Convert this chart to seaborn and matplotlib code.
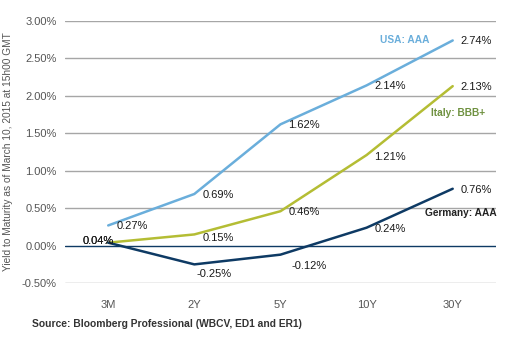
import matplotlib
matplotlib.use("Agg")
import matplotlib.pyplot as plt
import seaborn as sns
import pandas as pd

maturities = ["3M", "2Y", "5Y", "10Y", "30Y"]
usa = [0.27, 0.69, 1.62, 2.14, 2.74]
italy = [0.04, 0.15, 0.46, 1.21, 2.13]
germany = [0.04, -0.25, -0.12, 0.24, 0.76]
series_names = ["USA: AAA", "Italy: BBB+", "Germany: AAA"]
yticks = [-0.5, 0.0, 0.5, 1.0, 1.5, 2.0, 2.5, 3.0]

colors = {"USA: AAA": "#6aaedb", "Italy: BBB+": "#b4bd34", "Germany: AAA": "#0e3a64"}
name_colors = {"USA: AAA": "#6aaedb", "Italy: BBB+": "#6f9140", "Germany: AAA": "#222222"}

rows = []
for name, vals in zip(series_names, [usa, italy, germany]):
    for i, (m, v) in enumerate(zip(maturities, vals)):
        rows.append({"series": name, "maturity": m, "x": i, "y": v})
df = pd.DataFrame(rows)

sns.set_theme(style="white")
plt.rcParams["font.family"] = ["Liberation Sans", "DejaVu Sans"]

fig = plt.figure(figsize=(5.09, 3.44), dpi=100)
ax = fig.add_axes([0.128, 0.177, 0.846, 0.762])

for y in yticks:
    if y != 0:
        ax.axhline(y, color="#a6a6a6", lw=1.0, zorder=0)
ax.axhline(0, color="#0e3a64", lw=1.0, zorder=1)

sns.lineplot(data=df, x="x", y="y", hue="series", palette=colors,
             hue_order=series_names, lw=1.8, legend=False, ax=ax, zorder=3)

# value labels (offsets in pixels)
offsets = {
    "USA: AAA": [(8, -1), (8, -1), (8, -1), (8, -1), (8, -1)],
    "Italy: BBB+": [(-26, 2), (8, -4), (8, -1), (8, -2), (8, -1)],
    "Germany: AAA": [(-26, 2), (2, -10), (11, -11), (8, -1), (8, -1)],
}
for name, vals in zip(series_names, [usa, italy, germany]):
    for i, v in enumerate(vals):
        dx, dy = offsets[name][i]
        ax.annotate(f"{v:.2f}%", (i, v), xytext=(dx, dy), textcoords="offset pixels",
                    ha="left", va="center", fontsize=8, color="#1a1a1a", zorder=5)

# series names
ax.text(3.15, 2.74, "USA: AAA", color=name_colors["USA: AAA"], fontsize=7.3,
        fontweight="bold", ha="left", va="center")
ax.text(3.75, 1.77, "Italy: BBB+", color=name_colors["Italy: BBB+"], fontsize=7.3,
        fontweight="bold", ha="left", va="center")
ax.text(3.68, 0.43, "Germany: AAA", color=name_colors["Germany: AAA"], fontsize=7.3,
        fontweight="bold", ha="left", va="center")

ax.set_xlim(-0.5, 4.5)
ax.set_ylim(-0.5, 3.0)
ax.set_xticks(range(len(maturities)))
ax.set_xticklabels(maturities)
ax.set_yticks(yticks)
ax.set_yticklabels([f"{t:.2f}%" for t in yticks])
ax.tick_params(axis="both", length=0, labelsize=8, colors="#555555", pad=6)
ax.tick_params(axis="x", pad=12)
ax.set_xlabel("")
ax.set_ylabel("Yield to Maturity as of March 10, 2015 at 15h00 GMT", fontsize=7.3,
              color="#555555", labelpad=6)
for s in ax.spines.values():
    s.set_visible(False)

fig.text(0.063, 0.058, "Source: Bloomberg Professional (WBCV, ED1 and ER1)",
         fontsize=7.4, fontweight="bold", color="#333333", ha="left", va="center")

fig.savefig("out.png", dpi=100)
